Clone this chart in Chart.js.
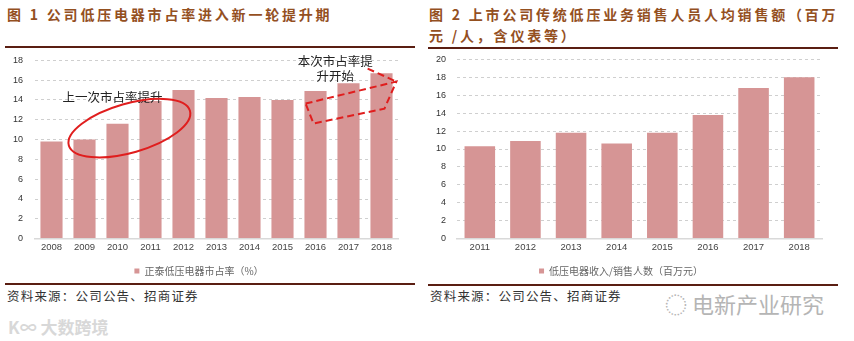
<!DOCTYPE html>
<html>
<head>
<meta charset="utf-8">
<script src="https://cdn.jsdelivr.net/npm/chart.js@4"></script>
<style>
  body { margin: 0; width: 854px; height: 341px; background: #fff; position: relative; overflow: hidden; font-family: "Noto Sans CJK SC", sans-serif; }
  .abs { position: absolute; white-space: nowrap; }
  .title { font-weight: bold; font-size: 14px; color: #94501f; letter-spacing: 2.8px; line-height: 21px; }
  .rule { position: absolute; height: 1.5px; background: #5a1e12; }
  .src { font-size: 12.5px; color: #333; letter-spacing: 1.2px; }
  .box { position: absolute; }
</style>
</head>
<body>
<div class="abs title" style="left:7px; top:4px;">图 1 公司低压电器市占率进入新一轮提升期</div>
<div class="abs title" style="left:429px; top:4px;">图 2 上市公司传统低压业务销售人员人均销售额（百万<br>元 /人，含仪表等）</div>
<div class="rule" style="left:5px; top:46px; width:410px;"></div>
<div class="rule" style="left:428px; top:47px; width:410px;"></div>

<div class="box" style="left:0; top:43px; width:415px; height:243px;"><canvas id="chart1"></canvas></div>
<div class="box" style="left:420px; top:43px; width:434px; height:243px;"><canvas id="chart2"></canvas></div>

<div class="rule" style="left:5px; top:283px; width:410px;"></div>
<div class="rule" style="left:428px; top:284px; width:410px;"></div>
<div class="abs src" style="left:7px; top:286px;">资料来源：公司公告、招商证券</div>
<div class="abs src" style="left:430px; top:286px;">资料来源：公司公告、招商证券</div>
<div class="abs" style="left:665px; top:287px; font-size:22px; color:#b5b5b5;">◌ <span>电新产业研究</span></div>
<div class="abs" style="left:8px; top:314px; font-size:17px; font-weight:bold; color:#d8d8d8;">K∞ 大数跨境</div>

<script>
const years1 = ["2008", "2009", "2010", "2011", "2012", "2013", "2014", "2015", "2016", "2017", "2018"];
const share = [9.8, 10.0, 11.6, 13.9, 15.0, 14.2, 14.3, 14.0, 14.9, 15.7, 16.7];
const ticks1 = [0, 2, 4, 6, 8, 10, 12, 14, 16, 18];

const years2 = ["2011", "2012", "2013", "2014", "2015", "2016", "2017", "2018"];
const perCapita = [10.3, 10.9, 11.8, 10.6, 11.8, 13.8, 16.8, 18.0];
const ticks2 = [0, 2, 4, 6, 8, 10, 12, 14, 16, 18, 20];

const barColor = "#d69595";

// red notes on the left chart, placed in (category index, value) space
const notes = {
  id: "notes",
  afterDatasetsDraw(chart) {
    const ctx = chart.ctx;
    const sx = chart.scales.x, sy = chart.scales.y;
    const px = (i) => sx.getPixelForValue(i);
    const py = (v) => sy.getPixelForValue(v);

    ctx.save();
    ctx.fillStyle = "#222";
    ctx.font = "12.5px 'Noto Sans CJK SC'";
    ctx.textAlign = "center";
    ctx.textBaseline = "middle";
    ctx.fillText("上一次市占率提升", px(1.85), py(14.24));
    ctx.fillText("本次市占率提", px(8.6), py(17.88));
    ctx.fillText("升开始", px(8.6), py(16.36));

    ctx.strokeStyle = "#e01e1e";
    ctx.lineWidth = 2;
    ctx.beginPath();
    ctx.ellipse(px(2.36), py(11.16), 63, 24.5, -16 * Math.PI / 180, 0, Math.PI * 2);
    ctx.stroke();

    ctx.setLineDash([7, 4]);
    ctx.beginPath();
    ctx.moveTo(px(7.70), py(13.64));
    ctx.lineTo(px(10.45), py(15.86));
    ctx.lineTo(px(10.09), py(13.13));
    ctx.lineTo(px(7.94), py(11.62));
    ctx.closePath();
    ctx.moveTo(px(9.58), py(17.17));
    ctx.lineTo(px(10.45), py(15.86));
    ctx.stroke();
    ctx.restore();
  }
};

function makeChart(id, labels, values, legendText, tickList, axisWidth, tickPad, padding, plugins) {
  return new Chart(document.getElementById(id), {
    type: "bar",
    data: {
      labels: labels,
      datasets: [{
        label: legendText,
        data: values,
        backgroundColor: barColor,
        borderWidth: 0,
        categoryPercentage: 1,
        barPercentage: 0.67
      }]
    },
    options: {
      responsive: true,
      maintainAspectRatio: false,
      animation: false,
      layout: { padding: padding },
      plugins: {
        tooltip: { enabled: false },
        legend: {
          position: "bottom",
          labels: {
            boxWidth: 5,
            boxHeight: 5,
            padding: 10,
            color: "#666",
            font: { family: "'Noto Sans CJK SC'", size: 10 }
          }
        }
      },
      scales: {
        x: {
          grid: { display: false, drawTicks: false },
          border: { color: "#d9d9d9", width: 1.5 },
          ticks: { color: "#444", padding: 3, font: { family: "'Liberation Sans'", size: 9.5 } }
        },
        y: {
          min: tickList[0],
          max: tickList[tickList.length - 1],
          afterBuildTicks: (s) => { s.ticks = tickList.map((v) => ({ value: v })); },
          afterFit: (s) => { s.width = axisWidth; },
          grid: { color: "#cfcfcf", drawTicks: false },
          border: { display: false, dash: [3, 3] },
          ticks: { color: "#333", padding: tickPad, font: { family: "'Liberation Sans'", size: 9 } }
        }
      }
    },
    plugins: plugins
  });
}

makeChart("chart1", years1, share, "正泰低压电器市占率（%）", ticks1, 35, 12,
  { top: 4, right: 17, left: 0, bottom: 0 }, [notes]);
makeChart("chart2", years2, perCapita, "低压电器收入/销售人数（百万元）", ticks2, 37, 11,
  { top: 4, right: 32, left: 0, bottom: 0 }, []);
</script>
</body>
</html>
